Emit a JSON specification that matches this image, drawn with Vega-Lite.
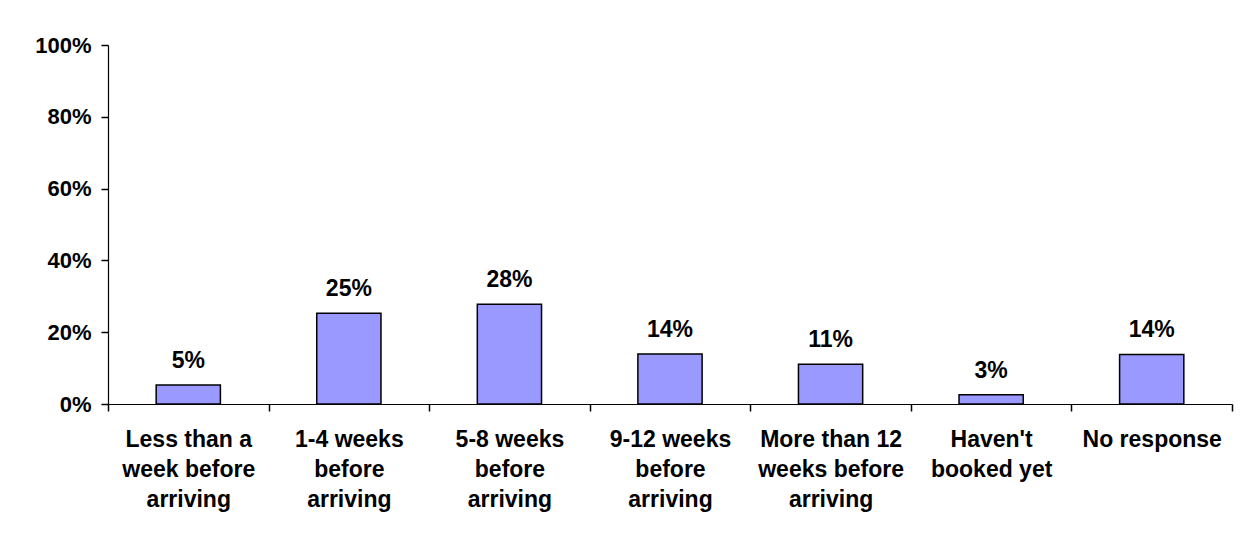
{
  "$schema": "https://vega.github.io/schema/vega-lite/v6.json",
  "width": 1124,
  "height": 359,
  "autosize": {"type": "none"},
  "padding": {"left": 108, "top": 45, "right": 19, "bottom": 133},
  "background": "white",
  "config": {
    "view": {"stroke": null},
    "font": "Liberation Sans",
    "axis": {"ticks": true, "tickColor": "black", "tickSize": 7, "tickWidth": 1.5, "tickOpacity": 1}
  },
  "data": {
    "values": [
      {"category": "Less than a|week before|arriving", "share": 0.053},
      {"category": "1-4 weeks|before|arriving", "share": 0.253},
      {"category": "5-8 weeks|before|arriving", "share": 0.278},
      {"category": "9-12 weeks|before|arriving", "share": 0.139},
      {"category": "More than 12|weeks before|arriving", "share": 0.111},
      {"category": "Haven't|booked yet", "share": 0.026},
      {"category": "No response", "share": 0.138}
    ]
  },
  "encoding": {
    "x": {
      "field": "category",
      "type": "nominal",
      "sort": null,
      "scale": {"paddingInner": 0, "paddingOuter": 0},
      "axis": {
        "title": null,
        "labelAngle": 0,
        "labelExpr": "split(datum.label, '|')",
        "labelFont": "Liberation Sans",
        "labelFontSize": 23,
        "labelFontWeight": "bold",
        "labelColor": "black",
        "labelLineHeight": 30,
        "labelPadding": 17,
        "labelBaseline": "top",
        "tickBand": "extent",
        "domainColor": "black",
        "domainWidth": 1.2,
        "labelLimit": 300
      }
    },
    "y": {
      "field": "share",
      "type": "quantitative",
      "scale": {"domain": [0, 1]},
      "axis": {
        "title": null,
        "format": ".0%",
        "values": [0, 0.2, 0.4, 0.6, 0.8, 1],
        "grid": false,
        "labelFont": "Liberation Sans",
        "labelFontSize": 22,
        "labelFontWeight": "bold",
        "labelColor": "black",
        "labelPadding": 10,
        "domainColor": "black",
        "domainWidth": 1.2
      }
    }
  },
  "layer": [
    {
      "mark": {"type": "bar", "width": {"band": 0.4}, "fill": "#9999FF", "stroke": "black", "strokeWidth": 1.5}
    },
    {
      "mark": {"type": "text", "dy": -17, "baseline": "alphabetic", "font": "Liberation Sans", "fontSize": 23, "fontWeight": "bold", "color": "black"},
      "encoding": {
        "text": {"field": "share", "type": "quantitative", "format": ".0%"}
      }
    }
  ]
}
